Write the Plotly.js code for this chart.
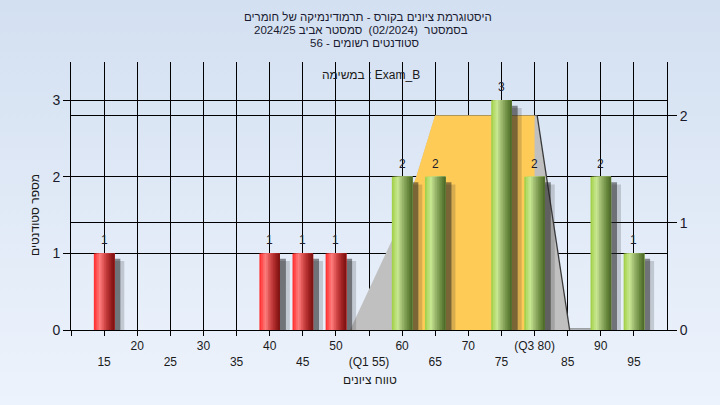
<!DOCTYPE html>
<html>
<head>
<meta charset="utf-8">
<script src="https://cdn.plot.ly/plotly-3.0.1.min.js"></script>
<style>
html,body{margin:0;padding:0;background:#e2ebf7;}
#chart{width:720px;height:405px;}
</style>
</head>
<body>
<div id="chart"></div>
<script>
// ---- data ----
const binCenters = [15,20,25,30,35,40,45,50,55,60,65,70,75,80,85,90,95];
const studentCounts = [1,0,0,0,0,1,1,1,0,2,2,0,3,2,0,2,1];
const passThreshold = 55;
const tickValues = [10,15,20,25,30,35,40,45,50,55,60,65,70,75,80,85,90,95];
const tickLabels = ["","15","20","25","30","35","40","45","50","(Q1 55)","60","65","70","75","(Q3 80)","85","90","95"];
const tickRow = [1,2,1,2,1,2,1,2,1,2,1,2,1,2,1,2,1,2];
// distribution band (right axis)
const bandX = [52.13, 58.47, 62.10, 64.97, 80.4, 85.3];
const bandY = [0, 0.837, 1.423, 2, 2, 0];
// highlighted region of the band (right axis)
const iqrX = [60, 60, 62.10, 64.97, 80, 80];
const iqrY = [0, 1.08, 1.423, 2, 2, 0];
const edgeX = [80.4, 85.3];
const edgeY = [2, 0];
const baseX = [85.3, 90];
const baseY = [0.01, 0.01];
const LRM = "\u200E";
const titleLines = ["היסטוגרמת ציונים בקורס - תרמודינמיקה של חומרים",
                    LRM + "2024/25 בסמסטר  (02/2024)  סמסטר אביב",
                    LRM + "56 - סטודנטים רשומים"];
const taskLabel = LRM + "במשימה : Exam_B";
const xTitle = "טווח ציונים";
const yTitle = "מספר סטודנטים";

// ---- styling helpers ----
const FONT = "Liberation Sans, Arial, sans-serif";
const W = 3.1;      // bar width in x units
const N = 12;       // gradient slices
const redStops = [[0,[255,40,40]],[0.15,[255,85,85]],[0.3,[252,125,125]],[0.45,[228,90,90]],[0.6,[196,60,60]],[0.8,[160,34,34]],[1,[120,16,16]]];
const greenStops = [[0,[156,204,64]],[0.15,[184,222,112]],[0.3,[200,230,146]],[0.45,[168,196,120]],[0.6,[138,168,94]],[0.8,[104,136,62]],[1,[74,100,38]]];
function interp(stops,t){
  for(let i=1;i<stops.length;i++){
    if(t<=stops[i][0]){
      const a=stops[i-1],b=stops[i];
      const f=(t-a[0])/(b[0]-a[0]);
      const c=a[1].map((v,k)=>Math.round(v+(b[1][k]-v)*f));
      return 'rgb('+c.join(',')+')';
    }
  }
  return 'rgb('+stops[stops.length-1][1].join(',')+')';
}

const nzX = [], nzY = [];
binCenters.forEach((x,i)=>{ if(studentCounts[i]>0){ nzX.push(x); nzY.push(studentCounts[i]); } });

const traces = [];
// polygons on right axis (main subplot)
traces.push({type:'scatter', x:bandX, y:bandY, yaxis:'y2', mode:'lines', fill:'toself',
  fillcolor:'#c0c0c0', line:{width:0}, hoverinfo:'skip'});
traces.push({type:'scatter', x:iqrX, y:iqrY, yaxis:'y2', mode:'lines', fill:'toself',
  fillcolor:'#ffcb57', line:{width:0}, hoverinfo:'skip'});
traces.push({type:'scatter', x:edgeX, y:edgeY, yaxis:'y2', mode:'lines',
  line:{width:1.3, color:'#3a3a3a'}, hoverinfo:'skip'});
traces.push({type:'scatter', x:baseX, y:baseY, yaxis:'y2', mode:'lines',
  line:{width:1.2, color:'#7a7a7a'}, hoverinfo:'skip'});

// shadows
traces.push({type:'bar', x:nzX, y:nzY.map(v=>v-0.1), yaxis:'y', width:W, offset:-W/2+1.5,
  marker:{color:'rgba(50,50,50,0.2)', line:{width:0}}, hoverinfo:'skip'});
traces.push({type:'bar', x:nzX, y:nzY.map(v=>v-0.07), yaxis:'y', width:W, offset:-W/2+0.9,
  marker:{color:'rgba(30,30,30,0.5)', line:{width:0}}, hoverinfo:'skip'});

// gradient slices
for(let i=0;i<N;i++){
  const t=(i+0.5)/N;
  const cols = nzX.map(x=> x<passThreshold ? interp(redStops,t) : interp(greenStops,t));
  traces.push({type:'bar', x:nzX, y:nzY, yaxis:'y', width:W-i*W/N, offset:-W/2+i*W/N,
    marker:{color:cols, line:{width:0}}, hoverinfo:'skip'});
}

const ticktext = tickLabels.map((s,i)=> tickRow[i]===1 ? s : '\u200b<br>'+s);

const L=71, R=53, T=62, B=75;
const pw = 720-L-R, ph = 405-T-B;
const px = xp => (xp-L)/pw;
const py = yp => (405-B-yp)/ph;

const svgBg = '<svg xmlns="http://www.w3.org/2000/svg" width="720" height="405"><defs><linearGradient id="g" x1="0" y1="0" x2="0" y2="1"><stop offset="0" stop-color="#d3e0f1"/><stop offset="1" stop-color="#edf3fc"/></linearGradient></defs><rect width="720" height="405" fill="url(#g)"/></svg>';

const annotations = [
  {text:titleLines[0], x:px(368), y:py(17)},
  {text:titleLines[1], x:px(361), y:py(30)},
  {text:titleLines[2], x:px(364), y:py(43)},
].map(a=>Object.assign({xref:'paper', yref:'paper', showarrow:false, xanchor:'center', yanchor:'middle',
  font:{family:FONT, size:11.5, color:'#1a1a30'}}, a));
annotations.push({text:taskLabel, xref:'paper', yref:'paper', x:px(371), y:py(75), showarrow:false,
  xanchor:'center', yanchor:'middle', font:{family:FONT, size:12, color:'#1a1a1a'}});
annotations.push({text:xTitle, xref:'paper', yref:'paper', x:px(370), y:py(380), showarrow:false,
  xanchor:'center', yanchor:'middle', font:{family:FONT, size:12, color:'#1a1a1a'}});
annotations.push({text:yTitle, xref:'paper', yref:'paper', x:px(35), y:py(215), showarrow:false,
  textangle:-90, xanchor:'center', yanchor:'middle', font:{family:FONT, size:12, color:'#1a1a1a'}});
// value labels above bars
nzX.forEach((x,i)=>{
  annotations.push({text:String(nzY[i]), xref:'x', yref:'y', x:x, y:nzY[i], yshift:13,
    showarrow:false, xanchor:'center', yanchor:'middle',
    font:{family:FONT, size:12, color:'#1c1c2c'}});
});

const layout = {
  width:720, height:405,
  margin:{l:L, r:R, t:T, b:B},
  paper_bgcolor:'#e2ebf7',
  plot_bgcolor:'#b2b2b2',
  showlegend:false,
  barmode:'overlay',
  font:{family:FONT, color:'#1a1a1a'},
  images:[{source:'data:image/svg+xml;charset=utf-8,'+encodeURIComponent(svgBg),
    xref:'paper', yref:'paper', x:-L/pw, y:1+T/ph, sizex:720/pw, sizey:405/ph,
    sizing:'stretch', xanchor:'left', yanchor:'top', layer:'below'}],
  xaxis:{range:[10,100], tickmode:'array', tickvals:tickValues, ticktext:ticktext,
    ticks:'outside', ticklen:5, tickcolor:'#000', showgrid:true, gridcolor:'#000', gridwidth:1,
    showline:true, linecolor:'#000', linewidth:1, zeroline:false,
    tickfont:{family:FONT, size:12, color:'#1a1a1a'}, fixedrange:true},
  yaxis:{range:[0,3.5], tickmode:'array', tickvals:[0,1,2,3], overlaying:'y2', side:'left', anchor:'x',
    ticks:'outside', ticklen:7, tickcolor:'#000', showgrid:true, gridcolor:'#000', gridwidth:1,
    showline:true, linecolor:'#000', linewidth:1, zeroline:false,
    tickfont:{family:FONT, size:14, color:'#1a1a2a'}, fixedrange:true},
  yaxis2:{range:[0,2.5], tickmode:'array', tickvals:[0,1,2], side:'right', anchor:'x',
    ticks:'outside', ticklen:9, tickcolor:'#000', showgrid:true, gridcolor:'#000', gridwidth:1,
    showline:true, linecolor:'#000', linewidth:1, zeroline:false,
    tickfont:{family:FONT, size:14, color:'#1a1a2a'}, fixedrange:true},
  annotations:annotations
};

Plotly.newPlot('chart', traces, layout, {staticPlot:true, displayModeBar:false});
</script>
</body>
</html>
